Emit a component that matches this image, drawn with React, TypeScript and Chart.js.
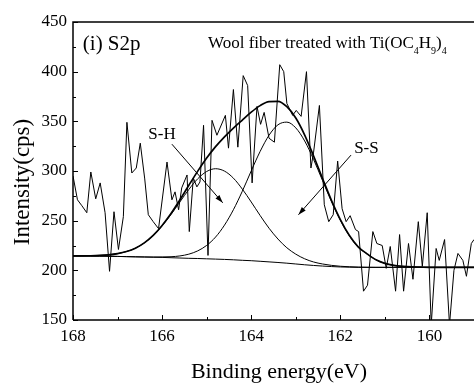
import React, { useEffect, useRef } from "react";
import { Chart, registerables } from "chart.js";

Chart.register(...registerables);

// Raw XPS S2p spectrum (binding energy in eV, intensity in cps)
const rawEnergy = [
  168.0, 167.9, 167.8, 167.69, 167.6, 167.49, 167.39, 167.28, 167.18, 167.08,
  166.98, 166.87, 166.79, 166.68, 166.58, 166.49, 166.39, 166.31, 166.2, 166.08,
  165.89, 165.78, 165.71, 165.63, 165.56, 165.44, 165.39, 165.3, 165.22, 165.15,
  165.07, 164.97, 164.88, 164.77, 164.58, 164.51, 164.4, 164.3, 164.18, 164.08,
  163.98, 163.87, 163.79, 163.71, 163.6, 163.48, 163.36, 163.27, 163.2, 163.07,
  162.99, 162.88, 162.76, 162.66, 162.6, 162.47, 162.36, 162.26, 162.16, 162.06,
  161.96, 161.87, 161.78, 161.66, 161.59, 161.48, 161.39, 161.27, 161.18, 161.06,
  160.97, 160.88, 160.76, 160.67, 160.58, 160.47, 160.37, 160.25, 160.16, 160.05,
  159.96, 159.85, 159.78, 159.66, 159.55, 159.45, 159.36, 159.25, 159.17, 159.06,
  159.0,
];
const rawIntensity = [
  295, 271, 265, 258, 299, 272, 288, 258, 199, 259,
  221, 254, 349, 298, 303, 328, 292, 256, 249, 242,
  309, 271, 279, 261, 283, 296, 239, 293, 284, 289,
  346, 215, 351, 336, 356, 323, 382, 324, 396, 386,
  288, 365, 347, 359, 333, 329, 407, 400, 368, 356,
  361, 355, 400, 303, 319, 366, 266, 249, 256, 310,
  262, 249, 255, 241, 239, 179, 185, 239, 227, 225,
  202, 224, 179, 236, 179, 227, 191, 249, 204, 258,
  145, 222, 210, 231, 145, 200, 217, 210, 194, 227,
  231,
];

// Fitted curves sampled on a common energy grid
const fitEnergy = [
  168.0, 167.8, 167.6, 167.4, 167.2, 167.0, 166.8, 166.6, 166.4, 166.2,
  166.0, 165.8, 165.6, 165.4, 165.2, 165.0, 164.8, 164.6, 164.4, 164.2,
  164.0, 163.8, 163.6, 163.4, 163.2, 163.0, 162.8, 162.6, 162.4, 162.2,
  162.0, 161.8, 161.6, 161.4, 161.2, 161.0, 160.8, 160.6, 160.4, 160.2,
  160.0, 159.0,
];
const baseline = [
  214.5, 214.5, 214.4, 214.3, 214.2, 214.0, 213.8, 213.6, 213.4, 213.2,
  213.0, 212.7, 212.4, 212.1, 211.9, 211.6, 211.3, 211.0, 210.6, 210.1,
  209.7, 209.1, 208.5, 207.9, 207.2, 206.4, 205.6, 204.9, 204.3, 203.8,
  203.4, 203.2, 203.0, 203.0, 203.0, 203.0, 203.0, 203.0, 203.0, 203.0,
  203.0, 203.0,
];
const peakSH = [
  214.6, 214.6, 214.7, 215.0, 215.6, 216.8, 218.9, 222.3, 227.6, 235.0,
  244.7, 256.2, 268.9, 281.4, 292.2, 299.5, 302.3, 299.9, 292.8, 281.8,
  268.8, 255.2, 242.4, 231.5, 222.7, 216.3, 211.6, 208.4, 206.4, 205.0,
  204.1, 203.6, 203.3, 203.1, 203.0, 203.0, 203.0, 203.0, 203.0, 203.0,
  203.0, 203.0,
];
const peakSS = [
  214.5, 214.5, 214.4, 214.3, 214.2, 214.0, 213.8, 213.6, 213.5, 213.4,
  213.5, 213.7, 214.5, 216.3, 219.6, 225.1, 233.5, 245.5, 261.0, 279.6,
  300.1, 319.7, 336.0, 346.5, 349.2, 343.4, 330.2, 311.6, 290.4, 269.3,
  250.4, 234.9, 223.4, 216.5, 210.6, 207.0, 205.0, 204.0, 203.4, 203.2,
  203.0, 203.0,
];
const envelope = [
  214.6, 214.6, 214.7, 215.0, 215.6, 216.8, 218.9, 222.3, 227.7, 235.2,
  245.2, 257.2, 271.0, 285.6, 299.9, 313.0, 324.5, 334.4, 343.2, 351.3,
  359.2, 365.8, 369.9, 370.1, 364.7, 353.3, 336.2, 315.1, 292.5, 270.5,
  251.1, 235.3, 223.7, 216.6, 210.6, 207.0, 205.0, 204.0, 203.4, 203.2,
  203.0, 203.0,
];

// Tick values
const xTicks = [168, 166, 164, 162, 160];
const xMinorTicks = [167, 165, 163, 161];
const yTicks = [150, 200, 250, 300, 350, 400, 450];
const yMinorTicks = [175, 225, 275, 325, 375, 425];

const FONT = "'Liberation Serif', 'Times New Roman', serif";

const toPoints = (xs: number[], ys: number[]) => xs.map((x, i) => ({ x, y: ys[i] }));

function drawArrow(ctx: CanvasRenderingContext2D, x0: number, y0: number, x1: number, y1: number) {
  ctx.beginPath();
  ctx.moveTo(x0, y0);
  ctx.lineTo(x1, y1);
  ctx.stroke();
  const ang = Math.atan2(y1 - y0, x1 - x0);
  const len = 8;
  const half = 2.6;
  const bx = x1 - len * Math.cos(ang);
  const by = y1 - len * Math.sin(ang);
  ctx.beginPath();
  ctx.moveTo(x1, y1);
  ctx.lineTo(bx + half * Math.sin(ang), by - half * Math.cos(ang));
  ctx.lineTo(bx - half * Math.sin(ang), by + half * Math.cos(ang));
  ctx.closePath();
  ctx.fill();
}

const decorPlugin = {
  id: "decor",
  afterDraw(chart: any) {
    const { ctx, chartArea: a } = chart;
    const xs = chart.scales.x;
    const ys = chart.scales.y;
    ctx.save();
    ctx.strokeStyle = "#000";
    ctx.fillStyle = "#000";
    // frame (left, top, bottom)
    ctx.lineWidth = 1.5;
    ctx.beginPath();
    ctx.moveTo(a.left, a.bottom);
    ctx.lineTo(a.left, a.top);
    ctx.lineTo(a.right, a.top);
    ctx.moveTo(a.left, a.bottom);
    ctx.lineTo(a.right, a.bottom);
    ctx.stroke();
    // inward ticks
    ctx.lineWidth = 1;
    ctx.beginPath();
    xTicks.forEach((v) => {
      const p = Math.round(xs.getPixelForValue(v)) + 0.5;
      ctx.moveTo(p, a.bottom);
      ctx.lineTo(p, a.bottom - 5);
    });
    xMinorTicks.forEach((v) => {
      const p = Math.round(xs.getPixelForValue(v)) + 0.5;
      ctx.moveTo(p, a.bottom);
      ctx.lineTo(p, a.bottom - 3);
    });
    yTicks.forEach((v) => {
      const p = Math.round(ys.getPixelForValue(v)) + 0.5;
      ctx.moveTo(a.left, p);
      ctx.lineTo(a.left + 5, p);
    });
    yMinorTicks.forEach((v) => {
      const p = Math.round(ys.getPixelForValue(v)) + 0.5;
      ctx.moveTo(a.left, p);
      ctx.lineTo(a.left + 3, p);
    });
    ctx.stroke();

    // annotations
    ctx.textAlign = "left";
    ctx.textBaseline = "alphabetic";
    ctx.font = `21px ${FONT}`;
    ctx.fillText("(i) S2p", xs.getPixelForValue(167.78), ys.getPixelForValue(421.8));

    let tx = xs.getPixelForValue(164.97);
    const ty = ys.getPixelForValue(423.5);
    const parts: [string, boolean][] = [
      ["Wool fiber treated with Ti(OC", false],
      ["4", true],
      ["H", false],
      ["9", true],
      [")", false],
      ["4", true],
    ];
    parts.forEach(([s, sub]) => {
      ctx.font = sub ? `10px ${FONT}` : `17px ${FONT}`;
      ctx.fillText(s, tx, sub ? ty + 6 : ty);
      tx += ctx.measureText(s).width;
    });

    ctx.font = `17px ${FONT}`;
    ctx.fillText("S-H", xs.getPixelForValue(166.31), ys.getPixelForValue(331.9));
    ctx.fillText("S-S", xs.getPixelForValue(161.69), ys.getPixelForValue(317.8));

    ctx.lineWidth = 1;
    drawArrow(ctx, xs.getPixelForValue(165.78), ys.getPixelForValue(327), xs.getPixelForValue(164.64), ys.getPixelForValue(268));
    drawArrow(ctx, xs.getPixelForValue(161.76), ys.getPixelForValue(316), xs.getPixelForValue(162.94), ys.getPixelForValue(256));

    // axis titles
    ctx.font = `22px ${FONT}`;
    ctx.textAlign = "center";
    ctx.fillText("Binding energy(eV)", 279, 378);
    ctx.save();
    ctx.translate(29, 182);
    ctx.rotate(-Math.PI / 2);
    ctx.font = `23px ${FONT}`;
    ctx.fillText("Intensity(cps)", 0, 0);
    ctx.restore();

    ctx.restore();
  },
};

export default function App() {
  const ref = useRef<HTMLCanvasElement>(null);
  useEffect(() => {
    const canvas = ref.current;
    if (!canvas) return;
    const line = (data: { x: number; y: number }[], width: number, smooth: boolean) => ({
      data,
      borderColor: "#000",
      borderWidth: width,
      pointRadius: 0,
      fill: false,
      tension: 0,
      cubicInterpolationMode: smooth ? ("monotone" as const) : ("default" as const),
    });
    const chart = new Chart(canvas, {
      type: "line",
      data: {
        datasets: [
          line(toPoints(rawEnergy, rawIntensity), 1, false),
          line(toPoints(fitEnergy, baseline), 1, true),
          line(toPoints(fitEnergy, peakSH), 1, true),
          line(toPoints(fitEnergy, peakSS), 1, true),
          line(toPoints(fitEnergy, envelope), 1.7, true),
        ],
      },
      options: {
        responsive: false,
        animation: false,
        devicePixelRatio: 1,
        layout: { padding: { top: 22, left: 0, right: 0, bottom: 0 } },
        plugins: { legend: { display: false }, tooltip: { enabled: false } },
        scales: {
          x: {
            type: "linear",
            reverse: true,
            min: 159,
            max: 168,
            afterBuildTicks: (s: any) => {
              s.ticks = xTicks.map((v) => ({ value: v }));
            },
            afterFit: (s: any) => {
              s.height = 63;
            },
            grid: { display: false, drawTicks: false },
            border: { display: false },
            ticks: {
              color: "#000",
              padding: 6,
              maxRotation: 0,
              autoSkip: false,
              font: { family: FONT, size: 17 },
              callback: (v: any) => String(v),
            },
          },
          y: {
            type: "linear",
            min: 150,
            max: 450,
            afterBuildTicks: (s: any) => {
              s.ticks = yTicks.map((v) => ({ value: v }));
            },
            afterFit: (s: any) => {
              s.width = 73;
            },
            grid: { display: false, drawTicks: false },
            border: { display: false },
            ticks: {
              color: "#000",
              padding: 6,
              autoSkip: false,
              font: { family: FONT, size: 17 },
              callback: (v: any) => String(v),
            },
          },
        },
      },
      plugins: [decorPlugin],
    });
    return () => chart.destroy();
  }, []);
  return (
    <div style={{ position: "fixed", left: 0, top: 0, width: 474, height: 383, background: "#fff" }}>
      <canvas ref={ref} width={474} height={383} style={{ display: "block", width: 474, height: 383 }} />
    </div>
  );
}
